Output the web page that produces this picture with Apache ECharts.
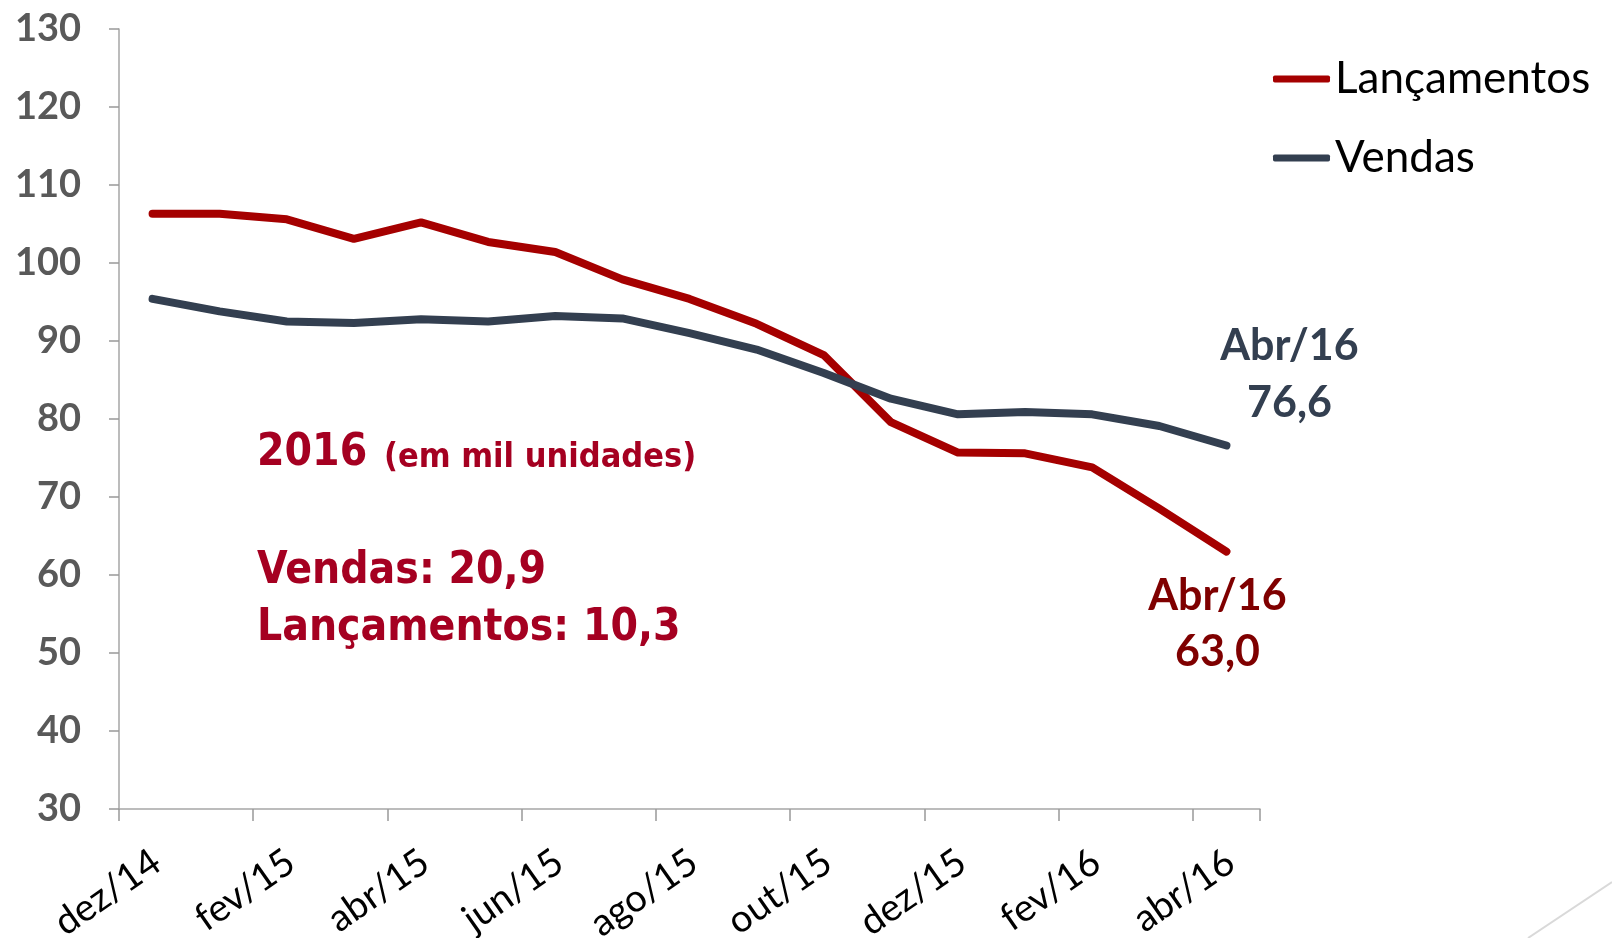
<!DOCTYPE html>
<html>
<head>
<meta charset="utf-8">
<script src="https://cdn.jsdelivr.net/npm/echarts@6/dist/echarts.min.js"></script>
<style>
  html, body { margin: 0; padding: 0; background: #fff; }
  #chart { width: 1612px; height: 938px; }
</style>
</head>
<body>
<div id="chart"></div>
<script>
// meses (eixo x)
const meses = ['dez/14', 'jan/15', 'fev/15', 'mar/15', 'abr/15', 'mai/15', 'jun/15', 'jul/15',
  'ago/15', 'set/15', 'out/15', 'nov/15', 'dez/15', 'jan/16', 'fev/16', 'mar/16', 'abr/16']

// séries (mil unidades, acumulado 12 meses)
const lancamentos = [106.3, 106.3, 105.6, 103.1, 105.2, 102.7, 101.4, 97.9, 95.4, 92.2, 88.2, 79.6, 75.7, 75.6, 73.8, 68.5, 63.0]
const vendas = [95.4, 93.8, 92.5, 92.3, 92.8, 92.5, 93.2, 92.9, 91.0, 88.9, 85.9, 82.6, 80.6, 80.9, 80.6, 79.1, 76.6]

const yMin = 30
const yMax = 130
const yStep = 10

const corLanc = '#A50000'
const corVendas = '#333F50'
const corTexto = '#A50021'

const fonteBold = '"DejaVu Sans Condensed", "DejaVu Sans", sans-serif'

//rótulo do último ponto
const ultimo = (arr, label) => arr.map((v, i) => i === arr.length - 1 ? { value: v, label: label } : v)

const chart = echarts.init(document.getElementById('chart'))

chart.setOption({
  animation: false,
  backgroundColor: '#fff',
  grid: { left: 119, right: 352, top: 29, bottom: 129, containLabel: false, outerBoundsMode: 'none' },
  legend: {
    orient: 'vertical',
    left: 1268,
    top: 52,
    icon: 'roundRect',
    itemWidth: 57,
    itemHeight: 7,
    itemGap: 35,
    textStyle: { fontFamily: 'Lato', fontSize: 44, color: '#000', lineHeight: 44 },
    data: ['Lançamentos', 'Vendas']
  },
  xAxis: {
    type: 'category',
    data: meses,
    boundaryGap: true,
    axisLine: { lineStyle: { color: '#A6A6A6', width: 1.5 } },
    axisTick: { show: true, interval: 1, length: 12, lineStyle: { color: '#999', width: 1.5 } },
    axisLabel: {
      interval: 1,
      rotate: 35,
      margin: 52,
      padding: [0, -5, 0, 0],
      fontFamily: 'Lato',
      fontSize: 38,
      color: '#000'
    }
  },
  yAxis: {
    type: 'value',
    min: yMin,
    max: yMax,
    interval: yStep,
    splitLine: { show: false },
    axisLine: { show: true, lineStyle: { color: '#A6A6A6', width: 1.5 } },
    axisTick: { show: true, length: 10, lineStyle: { color: '#999', width: 1.5 } },
    axisLabel: {
      margin: 38,
      fontFamily: 'Lato',
      fontWeight: 'bold',
      fontSize: 38,
      color: '#595959'
    }
  },
  series: [
    {
      name: 'Lançamentos',
      type: 'line',
      color: corLanc,
      symbol: 'circle',
      symbolSize: 1,
      lineStyle: { width: 8, cap: 'round', join: 'round' },
      data: ultimo(lancamentos, {
        show: true,
        position: 'inside',
        offset: [-9, 73],
        formatter: () => 'Abr/16\n63,0',
        align: 'center',
        verticalAlign: 'middle',
        fontFamily: 'Lato',
        fontWeight: 'bold',
        fontSize: 43,
        lineHeight: 56,
        color: '#7F0000'
      })
    },
    {
      name: 'Vendas',
      type: 'line',
      color: corVendas,
      symbol: 'circle',
      symbolSize: 1,
      lineStyle: { width: 8, cap: 'round', join: 'round' },
      data: ultimo(vendas, {
        show: true,
        position: 'inside',
        offset: [63, -71],
        formatter: () => 'Abr/16\n76,6',
        align: 'center',
        verticalAlign: 'middle',
        fontFamily: 'Lato',
        fontWeight: 'bold',
        fontSize: 43,
        lineHeight: 57,
        color: corVendas
      })
    }
  ],
  graphic: [
    {
      type: 'text', left: 257, top: 432,
      style: { text: '2016', fill: corTexto, font: 'bold 44px ' + fonteBold }
    },
    {
      type: 'text', left: 384, top: 441,
      style: { text: '(em mil unidades)', fill: corTexto, font: 'bold 34px ' + fonteBold }
    },
    {
      type: 'text', left: 257, top: 550,
      style: { text: 'Vendas: 20,9', fill: corTexto, font: 'bold 44px ' + fonteBold }
    },
    {
      type: 'text', left: 257, top: 607,
      style: { text: 'Lançamentos: 10,3', fill: corTexto, font: 'bold 44px ' + fonteBold }
    },
    {
      type: 'line',
      shape: { x1: 1528, y1: 938, x2: 1612, y2: 882 },
      style: { stroke: '#D9D9D9', lineWidth: 2 }
    }
  ]
})
</script>
</body>
</html>
